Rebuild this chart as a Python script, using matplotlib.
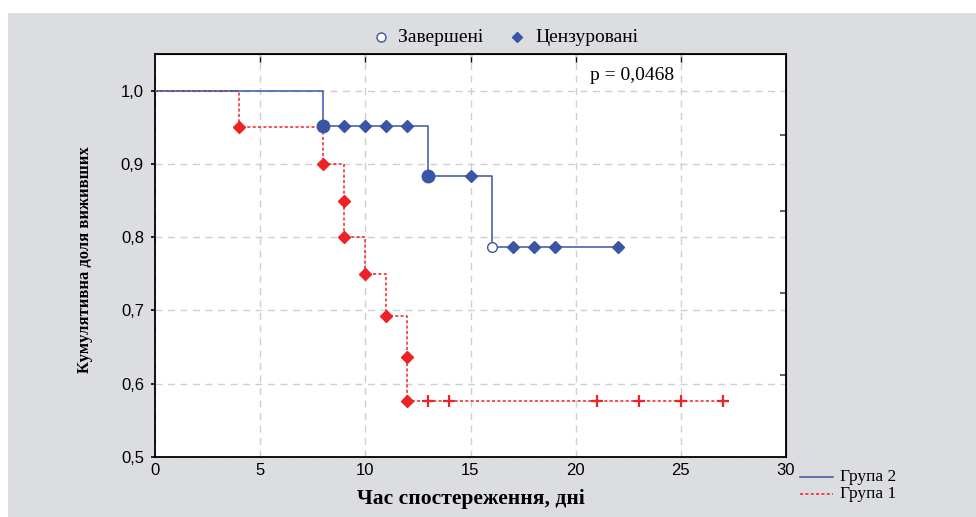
import matplotlib
matplotlib.use("Agg")
import matplotlib.pyplot as plt
from matplotlib.lines import Line2D
from matplotlib.patches import Rectangle

# ---- data ----
# Group 2 (blue): step curve
g2_times = [0, 8, 13, 16, 22]
g2_surv = [1.0, 0.952, 0.884, 0.786, 0.786]
g2_event_times = [8, 13]          # completed + censored overlap (filled dot)
g2_event_surv = [0.952, 0.884]
g2_complete_times = [16]
g2_complete_surv = [0.786]
g2_cens_times = [8, 9, 10, 11, 12, 13, 15, 17, 18, 19, 22]
g2_cens_surv = [0.952, 0.952, 0.952, 0.952, 0.952, 0.884, 0.884, 0.786, 0.786, 0.786, 0.786]

# Group 1 (red): step curve
g1_times = [0, 4, 8, 9, 10, 11, 12, 27]
g1_surv = [1.0, 0.95, 0.90, 0.80, 0.75, 0.693, 0.577, 0.577]
g1_pt_times = [4, 8, 9, 9, 10, 11, 12, 12]
g1_pt_surv = [0.95, 0.90, 0.85, 0.80, 0.75, 0.693, 0.636, 0.577]
g1_cens_times = [13, 14, 21, 23, 25, 27]
g1_cens_surv = [0.577, 0.577, 0.577, 0.577, 0.577, 0.577]

x_ticks = [0, 5, 10, 15, 20, 25, 30]
y_ticks = [0.5, 0.6, 0.7, 0.8, 0.9, 1.0]
y_tick_labels = ["0,5", "0,6", "0,7", "0,8", "0,9", "1,0"]
right_ticks = [0.612, 0.724, 0.836, 0.94]

BLUE = "#3b55a6"
RED = "#ec2227"
BG = "#dcdde0"
SERIF = "Liberation Serif"
SANS = "Liberation Sans"
W, H = 976, 517

def fx(px):
    return px / W

def fy(py):
    return 1 - py / H

fig = plt.figure(figsize=(9.76, 5.17), dpi=100)
fig.patch.set_facecolor("white")
fig.patches.append(Rectangle((fx(8), 0), 1, fy(13), transform=fig.transFigure,
                             facecolor=BG, edgecolor="none", zorder=-10))

ax = fig.add_axes([fx(155), 60 / H, 631 / W, 403 / H])
ax.set_facecolor("white")
ax.set_xlim(0, 30)
ax.set_ylim(0.5, 1.05)

ax.grid(True, color="#cfcfcf", linestyle=(0, (5, 4)), linewidth=1.0)
ax.set_axisbelow(True)

# Group 1
ax.step(g1_times, g1_surv, where="post", color=RED, linestyle=(0, (2, 1.5)), linewidth=1.1, zorder=3)
ax.plot(g1_pt_times, g1_pt_surv, linestyle="none", marker="D", ms=6.5, color=RED, zorder=4)
ax.plot(g1_cens_times, g1_cens_surv, linestyle="none", marker="+", ms=9, mew=1.6, color=RED, zorder=4)

# Group 2
ax.step(g2_times, g2_surv, where="post", color=BLUE, linewidth=1.1, zorder=3)
ax.plot(g2_event_times, g2_event_surv, linestyle="none", marker="o", ms=9, color=BLUE, zorder=5)
ax.plot(g2_cens_times, g2_cens_surv, linestyle="none", marker="D", ms=6.5, color=BLUE, zorder=5)
ax.plot(g2_complete_times, g2_complete_surv, linestyle="none", marker="o", ms=7,
        markerfacecolor="white", markeredgecolor=BLUE, mew=1.0, zorder=5)

ax.set_xticks(x_ticks)
ax.set_yticks(y_ticks)
ax.set_yticklabels(y_tick_labels)
for lab in ax.get_xticklabels() + ax.get_yticklabels():
    lab.set_fontfamily(SANS)
    lab.set_fontsize(12)
ax.tick_params(axis="x", length=0, pad=4)
ax.tick_params(axis="y", length=3, width=1.2, pad=5, direction="out")

for s in ax.spines.values():
    s.set_linewidth(1.3)
    s.set_color("black")

sec_x = ax.secondary_xaxis("top")
sec_x.set_xticks([5, 10, 15, 20, 25])
sec_x.set_xticklabels([])
sec_x.tick_params(direction="in", length=6, width=1.0)
sec_y = ax.secondary_yaxis("right")
sec_y.set_yticks(right_ticks)
sec_y.set_yticklabels([])
sec_y.tick_params(direction="in", length=4, width=1.2, color="#444444")

ax.text(22.7, 1.021, "p = 0,0468", fontfamily=SERIF, fontsize=14, ha="center", va="center")

fig.text(fx(471), fy(499), "Час спостереження, дні", fontfamily=SERIF, fontweight="bold",
         fontsize=15.5, ha="center", va="center")
fig.text(fx(85), fy(260), "Кумулятивна доля виживших", fontfamily=SERIF, fontweight="bold",
         fontsize=12, ha="center", va="center", rotation=90)

# top marker legend
fig.lines.append(Line2D([fx(381)], [fy(37)], transform=fig.transFigure, linestyle="none",
                        marker="o", ms=6.5, markerfacecolor="white", markeredgecolor=BLUE, mew=1.0))
fig.text(fx(398), fy(37), "Завершені", fontfamily=SERIF, fontsize=14, ha="left", va="center")
fig.lines.append(Line2D([fx(517)], [fy(37)], transform=fig.transFigure, linestyle="none",
                        marker="D", ms=5.5, color=BLUE))
fig.text(fx(535), fy(37), "Цензуровані", fontfamily=SERIF, fontsize=14, ha="left", va="center")

# group legend
fig.lines.append(Line2D([fx(800), fx(833)], [fy(477), fy(477)], transform=fig.transFigure,
                        color=BLUE, linewidth=1.1))
fig.text(fx(840), fy(477), "Група 2", fontfamily=SERIF, fontsize=12.5, ha="left", va="center")
fig.lines.append(Line2D([fx(800), fx(833)], [fy(494), fy(494)], transform=fig.transFigure,
                        color=RED, linewidth=1.1, linestyle=(0, (2, 1.5))))
fig.text(fx(840), fy(494), "Група 1", fontfamily=SERIF, fontsize=12.5, ha="left", va="center")

fig.savefig("out.png", dpi=100, facecolor=fig.get_facecolor())
